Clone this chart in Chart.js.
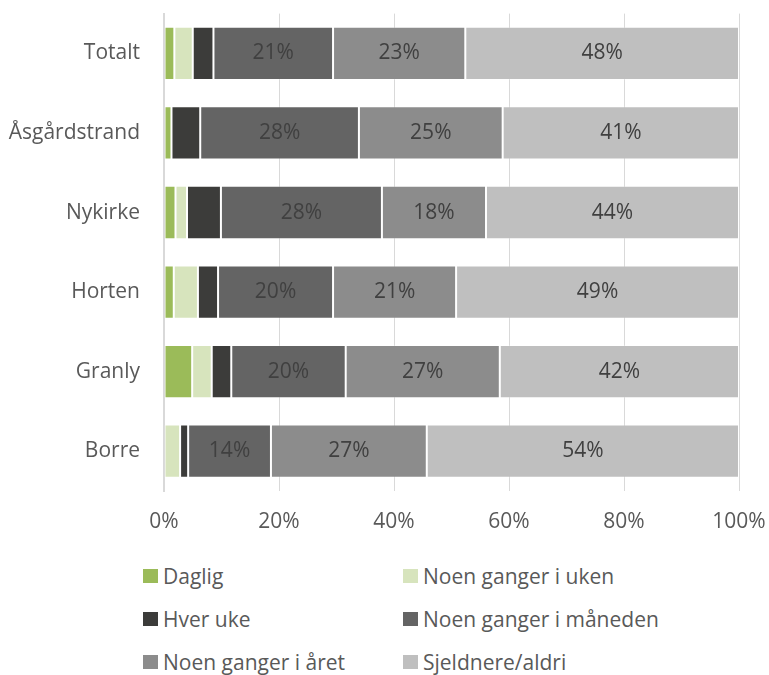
<!DOCTYPE html>
<html>
<head>
<meta charset="utf-8">
<script src="https://cdn.jsdelivr.net/npm/chart.js@4"></script>
<style>
  body { margin: 0; background: #fff; font-family: "Open Sans", sans-serif; }
  #wrap { position: relative; width: 769px; height: 568px; margin-top: -23px; }
  #legend { position: absolute; left: 143px; top: 562px; width: 620px; display: grid; grid-template-columns: 260px 300px; row-gap: 15px; }
  .item { display: flex; align-items: center; font-size: 21px; color: #595959; height: 28px; white-space: nowrap; }
  .box { width: 15px; height: 14px; margin-right: 5px; }
</style>
</head>
<body>
<div id="wrap"><canvas id="c"></canvas></div>
<div id="legend"></div>
<script>
// Kategorier og serier (andel i prosent)
const categories = ['Totalt', 'Åsgårdstrand', 'Nykirke', 'Horten', 'Granly', 'Borre'];
const seriesNames = ['Daglig', 'Noen ganger i uken', 'Hver uke', 'Noen ganger i måneden', 'Noen ganger i året', 'Sjeldnere/aldri'];
const daglig = [1.8, 1.3, 2.0, 1.7, 4.9, 0];
const ukentlig = [3.2, 0, 2.0, 4.2, 3.4, 2.8];
const hverUke = [3.6, 5.0, 5.9, 3.5, 3.4, 1.4];
const maaned = [20.8, 27.6, 28.0, 20.0, 19.9, 14.4];
const aaret = [23.0, 25.0, 18.1, 21.4, 26.8, 27.1];
const sjeldnere = [47.6, 41.1, 44.0, 49.2, 41.6, 54.3];
const xTicks = [0, 20, 40, 60, 80, 100];

const colors = ['#9bbb59', '#d7e4bd', '#3c3c3a', '#646464', '#8c8c8c', '#bfbfbf'];
const values = [daglig, ukentlig, hverUke, maaned, aaret, sjeldnere];
const labelled = [3, 4, 5];

// Tekst midt i segmentene
const segLabels = {
    id: 'segLabels',
    afterDatasetsDraw(chart) {
        const ctx = chart.ctx;
        ctx.save();
        ctx.font = '21px "Open Sans"';
        ctx.fillStyle = '#404040';
        ctx.textAlign = 'center';
        ctx.textBaseline = 'middle';
        labelled.forEach(di => {
            chart.getDatasetMeta(di).data.forEach((bar, i) => {
                const p = bar.getCenterPoint();
                ctx.fillText(Math.round(values[di][i]) + '%', p.x, p.y);
            });
        });
        ctx.restore();
    }
};

const chart = new Chart(document.getElementById('c'), {
    type: 'bar',
    data: {
        labels: categories,
        datasets: seriesNames.map((n, i) => ({
            label: n,
            data: values[i],
            backgroundColor: colors[i],
            borderColor: 'rgba(255,255,255,0.25)',
            borderWidth: 1,
            borderSkipped: false,
            barPercentage: 0.67,
            categoryPercentage: 1
        }))
    },
    options: {
        indexAxis: 'y',
        responsive: true,
        maintainAspectRatio: false,
        animation: false,
        layout: { padding: { top: 0, right: 30, bottom: 0, left: 0 } },
        plugins: { legend: { display: false }, tooltip: { enabled: false } },
        scales: {
            x: {
                stacked: true,
                min: 0,
                max: 100,
                afterBuildTicks: s => { s.ticks = xTicks.map(v => ({ value: v })); },
                afterFit: s => { s.height = 54; s.paddingLeft = 0; s.paddingRight = 0; },
                ticks: { callback: v => v + '%', color: '#595959', font: { family: 'Open Sans', size: 21 }, padding: 18 },
                grid: { color: '#d9d9d9', drawTicks: false },
                border: { display: false }
            },
            y: {
                stacked: true,
                afterFit: s => { s.width = 164; },
                ticks: { color: '#595959', font: { family: 'Open Sans', size: 21 }, padding: 24 },
                grid: { display: false, drawTicks: false },
                border: { color: '#d9d9d9', width: 2 }
            }
        }
    },
    plugins: [segLabels]
});

// Forklaring
const leg = document.getElementById('legend');
seriesNames.forEach((n, i) => {
    const d = document.createElement('div');
    d.className = 'item';
    d.innerHTML = '<span class="box" style="background:' + colors[i] + '"></span>' + n;
    leg.appendChild(d);
});
</script>
</body>
</html>
